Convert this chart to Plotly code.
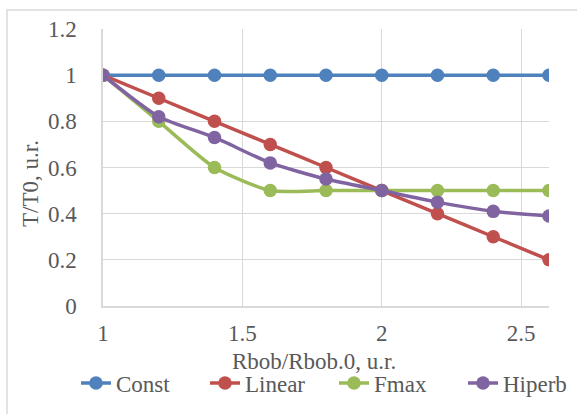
import plotly.graph_objects as go

x_vals = [1.0, 1.2, 1.4, 1.6, 1.8, 2.0, 2.2, 2.4, 2.6]
const_vals = [1, 1, 1, 1, 1, 1, 1, 1, 1]
linear_vals = [1, 0.9, 0.8, 0.7, 0.6, 0.5, 0.4, 0.3, 0.2]
fmax_vals = [1, 0.8, 0.6, 0.5, 0.5, 0.5, 0.5, 0.5, 0.5]
hiperb_vals = [1, 0.82, 0.73, 0.62, 0.55, 0.5, 0.45, 0.41, 0.39]

x_ticks = [1, 1.5, 2, 2.5]
x_labels = ["1", "1.5", "2", "2.5"]
y_ticks = [0, 0.2, 0.4, 0.6, 0.8, 1, 1.2]
y_labels = ["0", "0.2", "0.4", "0.6", "0.8", "1", "1.2"]
x_title = "Rbob/Rbob.0, u.r."
y_title = "T/T0, u.r."

series = [
    ("Const", const_vals, "#4F81BD"),
    ("Linear", linear_vals, "#C0504D"),
    ("Fmax", fmax_vals, "#9BBB59"),
    ("Hiperb", hiperb_vals, "#8064A2"),
]

ff = "Liberation Serif"
gray = "#595959"
fs = 23
txt = dict(family=ff, size=fs, color=gray)

fig = go.Figure()
for name, vals, color in series:
    fig.add_trace(go.Scatter(
        x=x_vals, y=vals, name=name, mode="lines+markers",
        line=dict(color=color, width=3.5, shape="spline", smoothing=0.6),
        marker=dict(color=color, size=13.5),
    ))

fig.update_layout(
    width=577, height=414,
    margin=dict(l=103, r=28, t=29, b=108, autoexpand=False),
    paper_bgcolor="white", plot_bgcolor="white",
    font=txt,
    showlegend=True,
    legend=dict(orientation="h", xref="paper", yref="paper",
                x=(76 - 103) / 446, xanchor="left", y=(306 - 383) / 277, yanchor="middle",
                font=txt, tracegroupgap=0, entrywidth=84, entrywidthmode="pixels",
                itemwidth=30, bgcolor="rgba(0,0,0,0)"),
    xaxis=dict(
        range=[1, 2.6], tickvals=x_ticks, ticktext=x_labels,
        showgrid=True, gridcolor="#D9D9D9", gridwidth=1,
        showline=True, linecolor="#D9D9D9", linewidth=1.5,
        zeroline=False, ticks="outside", ticklen=6, tickcolor="rgba(0,0,0,0)",
        tickfont=txt,
    ),
    yaxis=dict(
        range=[0, 1.2], tickvals=y_ticks, ticktext=y_labels,
        showgrid=True, gridcolor="#D9D9D9", gridwidth=1,
        showline=True, linecolor="#D9D9D9", linewidth=1.5,
        zeroline=False, ticks="outside", ticklen=20, tickcolor="rgba(0,0,0,0)",
        tickfont=txt,
    ),
    annotations=[
        dict(text=x_title, xref="paper", yref="paper",
             x=(314 - 103) / 446, y=(306 - 361) / 277,
             xanchor="center", yanchor="middle", showarrow=False, font=txt),
        dict(text=y_title, xref="paper", yref="paper",
             x=(30 - 103) / 446, y=(306 - 184) / 277, textangle=-90,
             xanchor="center", yanchor="middle", showarrow=False, font=txt),
    ],
    shapes=[dict(type="rect", xref="paper", yref="paper",
                 x0=(7 - 103) / 446, x1=1.1, y0=-0.5, y1=(306 - 10) / 277,
                 line=dict(color="#D9D9D9", width=1.5), layer="below")],
)

fig.write_html("out.html")
